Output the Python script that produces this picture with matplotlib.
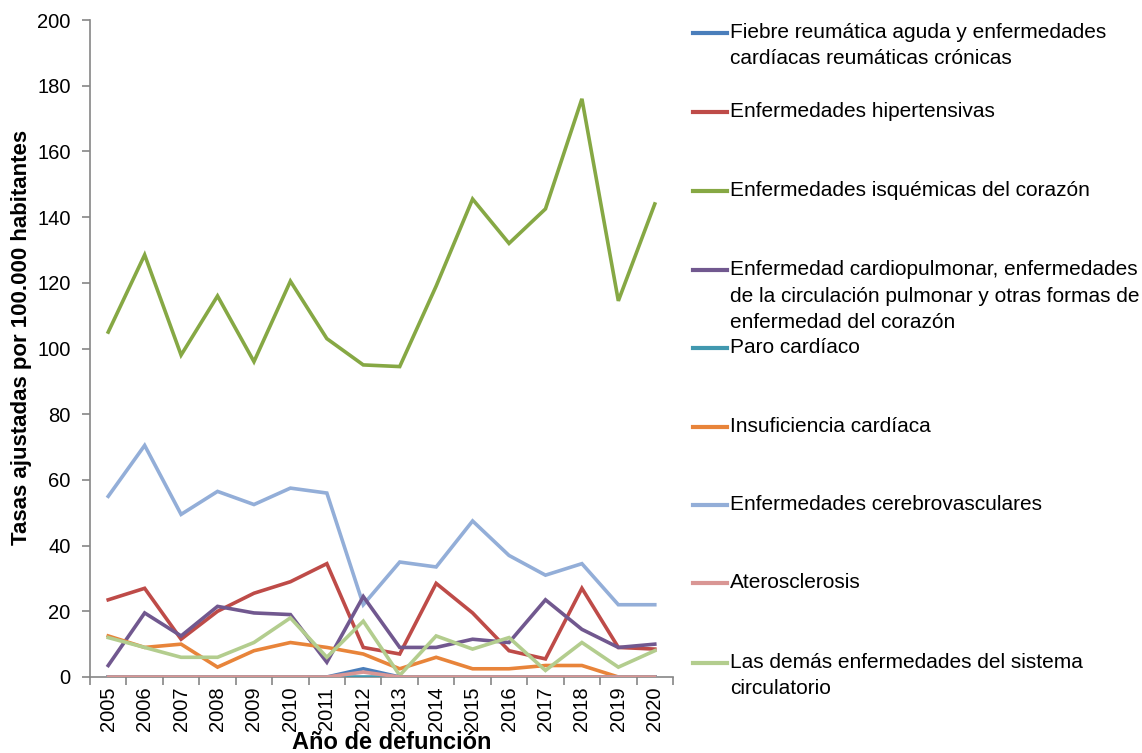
import matplotlib
matplotlib.use("Agg")
import matplotlib.pyplot as plt
from matplotlib.lines import Line2D
from matplotlib import font_manager

years = ["2005", "2006", "2007", "2008", "2009", "2010", "2011", "2012",
         "2013", "2014", "2015", "2016", "2017", "2018", "2019", "2020"]

fiebre_reumatica = [0, 0, 0, 0, 0, 0, 0, 2.5, 0, 0, 0, 0, 0, 0, 0, 0]
hipertensivas = [23.5, 27, 11.5, 20, 25.5, 29, 34.5, 9, 7, 28.5, 19.5, 8, 5.5, 27, 9, 8.5]
isquemicas = [105, 128.5, 98, 116, 96, 120.5, 103, 95, 94.5, 119, 145.5, 132, 142.5, 176, 114.5, 144]
cardiopulmonar = [3.5, 19.5, 12.5, 21.5, 19.5, 19, 4.5, 24.5, 9, 9, 11.5, 10.5, 23.5, 14.5, 9, 10]
paro_cardiaco = [0, 0, 0, 0, 0, 0, 0, 0, 0, 0, 0, 0, 0, 0, 0, 0]
insuficiencia = [12.5, 9, 10, 3, 8, 10.5, 9, 7, 2.5, 6, 2.5, 2.5, 3.5, 3.5, 0, 0]
cerebrovasculares = [55, 70.5, 49.5, 56.5, 52.5, 57.5, 56, 22, 35, 33.5, 47.5, 37, 31, 34.5, 22, 22]
aterosclerosis = [0, 0, 0, 0, 0, 0, 0, 1.5, 0, 0, 0, 0, 0, 0, 0, 0]
demas = [12, 9, 6, 6, 10.5, 18, 6, 17, 0.5, 12.5, 8.5, 12, 2, 10.5, 3, 8]

labels = [
    "Fiebre reumática aguda y enfermedades\ncardíacas reumáticas crónicas",
    "Enfermedades hipertensivas",
    "Enfermedades isquémicas del corazón",
    "Enfermedad cardiopulmonar, enfermedades\nde la circulación pulmonar y otras formas de\nenfermedad del corazón",
    "Paro cardíaco",
    "Insuficiencia cardíaca",
    "Enfermedades cerebrovasculares",
    "Aterosclerosis",
    "Las demás enfermedades del sistema\ncirculatorio",
]
series = [fiebre_reumatica, hipertensivas, isquemicas, cardiopulmonar, paro_cardiaco,
          insuficiencia, cerebrovasculares, aterosclerosis, demas]
colors = ["#4A7EBB", "#BE4B48", "#86A844", "#71588F", "#4198AF",
          "#E8843A", "#93AED8", "#D99694", "#B3CD8E"]

names = {f.name for f in font_manager.fontManager.ttflist}
fam = "Liberation Sans Narrow" if "Liberation Sans Narrow" in names else "Liberation Sans"
plt.rcParams['font.family'] = [fam, 'DejaVu Sans']

W, H = 1142, 753
fig = plt.figure(figsize=(W / 100, H / 100), dpi=100)
ax = fig.add_axes([90 / W, 1 - 677 / H, (673 - 90) / W, (677 - 20) / H])

x = list(range(len(years)))
order = [6, 2, 1, 3, 5, 8, 0, 4, 7]
for i in order:
    ax.plot(x, series[i], color=colors[i], lw=2.6, solid_joinstyle='miter', zorder=3 + (i == 7))

ax.set_xlim(-0.5, len(years) - 0.5)
ax.set_ylim(0, 200)
ax.set_yticks(range(0, 201, 20))
ax.set_xticks(x)
ax.set_xticklabels(years, rotation=90, fontsize=14.5)
ax.set_xticks([i - 0.5 for i in range(len(years) + 1)], minor=True)
ax.tick_params(axis='x', which='major', length=0, pad=7)
ax.tick_params(axis='x', which='minor', length=6, color='#868686', width=1.2)
ax.tick_params(axis='y', length=6, color='#868686', width=1.2, labelsize=14.5, pad=8)
for s in ['top', 'right']:
    ax.spines[s].set_visible(False)
for s in ['left', 'bottom']:
    ax.spines[s].set_color('#868686')
    ax.spines[s].set_linewidth(1.2)

ax.set_ylabel("Tasas ajustadas por 100.000 habitantes", fontsize=16, fontweight='bold')
ax.yaxis.set_label_coords(-0.1, 0.517)
ax.set_xlabel("Año de defunción", fontsize=17, fontweight='bold')
ax.xaxis.set_label_coords(0.518, -0.082)

ys = [33, 112, 191, 270, 348, 427, 505, 583, 663]
for lab, c, yp in zip(labels, colors, ys):
    fig.add_artist(Line2D([693 / W, 727 / W], [1 - yp / H, 1 - yp / H], color=c, lw=3))
    fig.text(730 / W, 1 - (yp - 10) / H, lab, fontsize=15, va='top', ha='left',
             linespacing=1.5)

fig.savefig("out.png", dpi=100)
